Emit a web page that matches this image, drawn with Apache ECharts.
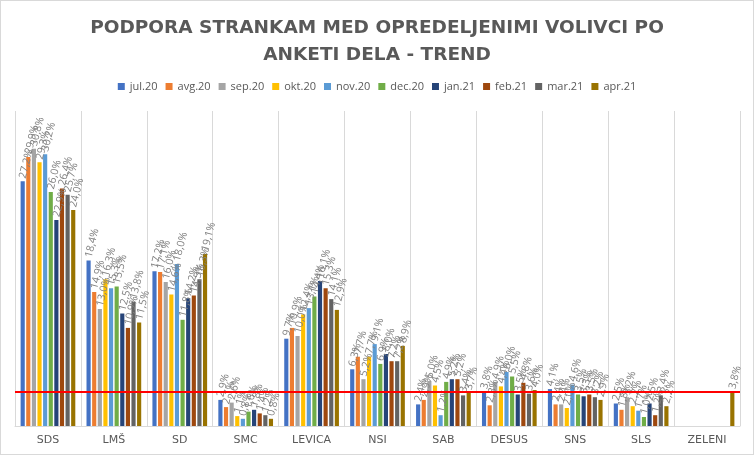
<!DOCTYPE html>
<html>
<head>
<meta charset="utf-8">
<script src="https://cdn.jsdelivr.net/npm/echarts@6/dist/echarts.min.js"></script>
<style>
html,body{margin:0;padding:0;background:#fff;}
#c{width:754px;height:455px;box-sizing:border-box;border:1px solid #d9d9d9;}
</style>
</head>
<body>
<div id="c"></div>
<script>
var categories = ['SDS','LMŠ','SD','SMC','LEVICA','NSI','SAB','DESUS','SNS','SLS','ZELENI'];
var months = ['jul.20','avg.20','sep.20','okt.20','nov.20','dec.20','jan.21','feb.21','mar.21','apr.21'];
var colors = ['#4472C4','#ED7D31','#A5A5A5','#FFC000','#5B9BD5','#70AD47','#264478','#9E480E','#636363','#997300'];
var jul20 = [27.2, 18.4, 17.2, 2.9, 9.7, 6.3, 2.4, 3.8, 4.1, 2.5, null];
var avg20 = [29.9, 14.9, 17.1, 2.1, 10.9, 7.7, 2.9, 2.3, 2.4, 1.8, null];
var sep20 = [30.8, 13.0, 16.0, 2.6, 10.0, 5.2, 5.0, 4.9, 2.4, 3.2, null];
var okt20 = [29.3, 16.3, 14.6, 1.1, 12.4, 7.7, 4.5, 4.4, 2.0, 2.2, null];
var nov20 = [30.2, 15.3, 18.0, 0.8, 13.1, 9.1, 1.2, 6.0, 4.6, 1.7, null];
var dec20 = [26.0, 15.5, 11.8, 1.6, 14.4, 6.9, 4.9, 5.5, 3.5, 1.0, null];
var jan21 = [22.9, 12.5, 14.2, 1.8, 16.1, 8.0, 5.2, 3.5, 3.3, 2.5, null];
var feb21 = [26.4, 10.9, 14.5, 1.4, 15.3, 7.2, 5.2, 4.8, 3.5, 1.2, null];
var mar21 = [25.7, 13.8, 16.3, 1.2, 14.1, 7.2, 3.4, 3.6, 3.2, 3.4, null];
var apr21 = [24.0, 11.5, 19.1, 0.8, 12.9, 8.9, 3.7, 4.0, 2.9, 2.2, 3.8];
var thresholdValue = 3.8;

var seriesData = [jul20, avg20, sep20, okt20, nov20, dec20, jan21, feb21, mar21, apr21];
var series = seriesData.map(function(d, i){
  var s = {
    name: months[i],
    type: 'bar',
    data: d,
    barGap: '35%',
    barCategoryGap: '17%',
    itemStyle: {color: colors[i]},
    label: {
      show: true,
      position: 'top',
      distance: 3,
      rotate: 76,
      align: 'left',
      verticalAlign: 'middle',
      color: '#808080',
      fontSize: 10.5,
      fontFamily: 'Open Sans',
      formatter: function(p){ return p.value == null ? '' : p.value.toFixed(1).replace('.', ',') + '%'; }
    }
  };
  if (i === 0) {
    s.markLine = {
      silent: true,
      symbol: ['none','none'],
      label: {show: false},
      lineStyle: {color: '#FF0000', width: 2, type: 'solid'},
      data: [{yAxis: thresholdValue}]
    };
  }
  return s;
});

var chart = echarts.init(document.getElementById('c'));
chart.setOption({
  animation: false,
  color: colors,
  title: {
    text: 'PODPORA STRANKAM MED OPREDELJENIMI VOLIVCI PO\nANKETI DELA - TREND',
    left: 'center',
    top: 9,
    textStyle: {
      fontFamily: 'DejaVu Sans',
      fontWeight: 'bold',
      fontSize: 18.5,
      lineHeight: 27,
      color: '#595959'
    }
  },
  legend: {
    top: 75,
    left: 'center',
    itemWidth: 7,
    itemHeight: 7,
    itemGap: 8,
    icon: 'rect',
    textStyle: {color: '#595959', fontSize: 11, fontFamily: 'Open Sans'},
    data: months
  },
  grid: {left: 14, right: 13, top: 110, bottom: 28, containLabel: false},
  xAxis: {
    type: 'category',
    data: categories,
    axisLine: {lineStyle: {color: '#d9d9d9'}},
    axisTick: {show: false},
    splitLine: {show: true, lineStyle: {color: '#d9d9d9'}},
    axisLabel: {color: '#595959', fontSize: 11, fontFamily: 'DejaVu Sans', margin: 9}
  },
  yAxis: {
    type: 'value',
    min: 0,
    max: 35,
    show: false,
    splitLine: {show: false}
  },
  series: series
});
</script>
</body>
</html>
